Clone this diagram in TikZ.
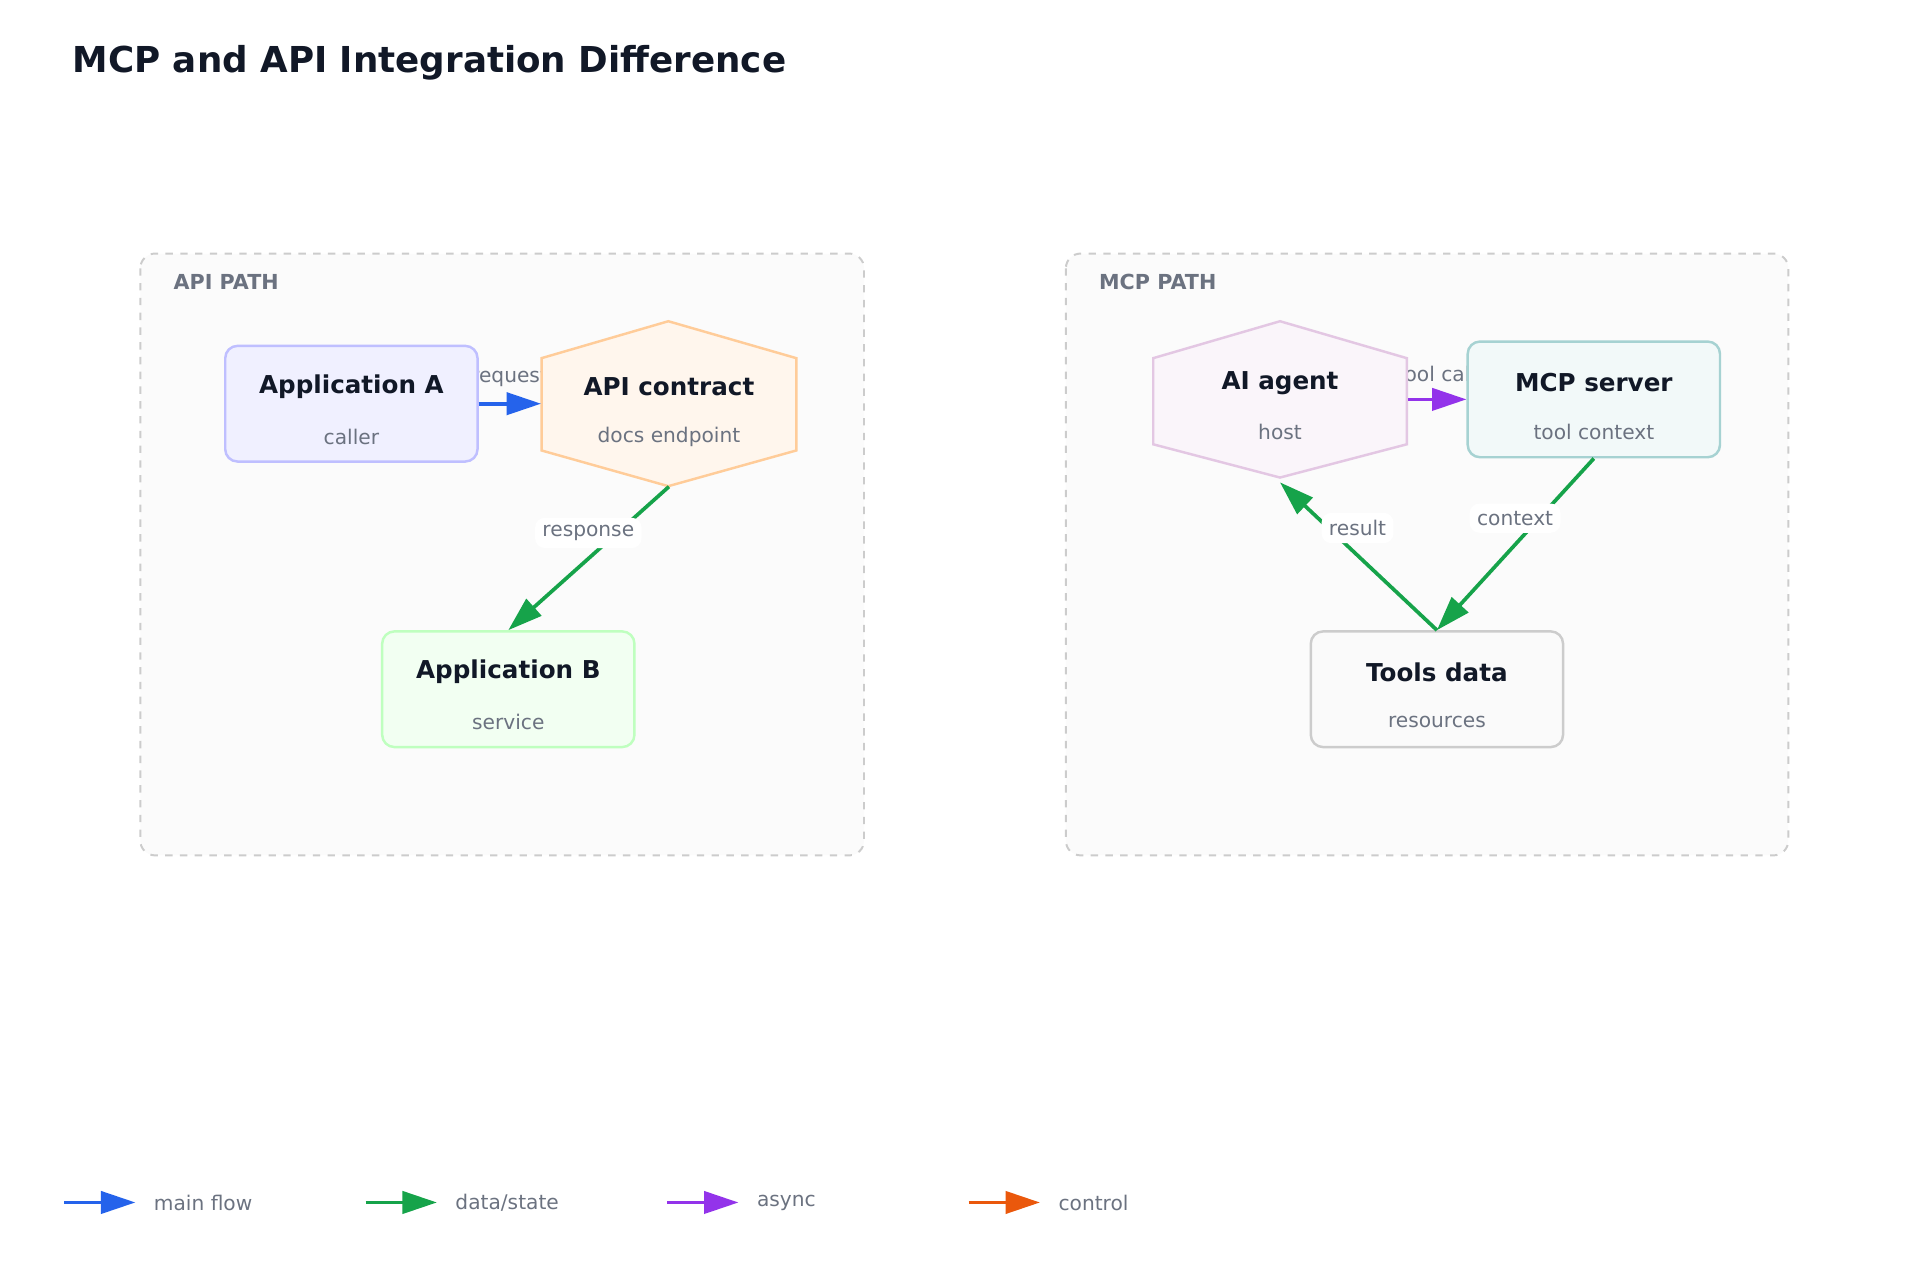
\documentclass[tikz,border=0pt]{standalone}
\usepackage{fontspec}
\setmainfont{DejaVu Sans}
\usetikzlibrary{arrows.meta}
\definecolor{ink}{HTML}{111827}
\definecolor{sub}{HTML}{6B7280}
\definecolor{cblue}{HTML}{2563EB}
\definecolor{cgreen}{HTML}{16A34A}
\definecolor{cpurple}{HTML}{9333EA}
\definecolor{corange}{HTML}{EA580C}
\begin{document}
\begin{tikzpicture}[x=0.5pt,y=-0.5pt,
  box/.style={draw, line width=1pt, rounded corners=5pt, minimum width=102.5pt, minimum height=47pt, inner sep=0pt},
  hexbox/.style={minimum width=103.5pt, minimum height=67pt, inner sep=0pt},
  ttl/.style={font=\fontsize{10}{12}\selectfont\bfseries, text=ink},
  stl/.style={font=\fontsize{8.2}{10}\selectfont, text=sub},
  grp/.style={draw=black!20, dashed, line width=0.8pt, fill=black!1.5, rounded corners=6pt},
  glab/.style={font=\fontsize{8.4}{10}\selectfont\bfseries, text=sub, anchor=west},
  arr/.style={line width=1.5pt, -{Triangle[length=14pt,width=9pt]}},
  elab/.style={font=\fontsize{8.2}{10}\selectfont, text=sub},
  elabw/.style={elab, fill=white, inner sep=3pt, rounded corners=4pt},
  leg/.style={font=\fontsize{8.2}{10}\selectfont, text=sub, anchor=west}]
\useasboundingbox (0,0) rectangle (1560,1040);
\node[anchor=west, font=\fontsize{14.5}{17}\selectfont\bfseries, text=ink] (title) at (52,51) {MCP and API Integration Difference};
% groups
\draw[grp] (114,206) rectangle (702,695);
\node[glab] (g1) at (134,229) {API PATH};
\draw[grp] (866,206) rectangle (1453,695);
\node[glab] (g2) at (886,229) {MCP PATH};
% clipped edge labels (drawn beneath nodes)
\node[elab] (lreq) at (414,307) {request};
\node[elab] (ltool) at (1167,304) {tool call};
% API path nodes
\node[box, draw=blue!25, fill=blue!6] (appA) at (285.5,328) {};
\node[ttl] at (285.5,314) {Application A};
\node[stl] at (285.5,355) {caller};
\node[hexbox] (api) at (543.5,328) {};
\draw[line width=1pt, draw=orange!40, fill=orange!7] (543,261) -- (647,291) -- (647,366) -- (543,395) -- (440,366) -- (440,291) -- cycle;
\node[ttl] at (543.5,314) {API contract};
\node[stl] at (543.5,355) {docs endpoint};
\node[box, draw=green!25, fill=green!5] (appB) at (413,560) {};
\node[ttl] at (413,546) {Application B};
\node[stl] at (413,587) {service};
% MCP path nodes
\node[hexbox] (agent) at (1040,324.5) {};
\draw[line width=1pt, draw=violet!22, fill=violet!4] (1040,261) -- (1143,291) -- (1143,361) -- (1040,388) -- (937,361) -- (937,291) -- cycle;
\node[ttl] at (1040,311) {AI agent};
\node[stl] at (1040,351) {host};
\node[box, draw=teal!35, fill=teal!5] (mcp) at (1295,324.5) {};
\node[ttl] at (1295,311) {MCP server};
\node[stl] at (1295,351) {tool context};
\node[box, draw=black!20, fill=black!2] (tools) at (1167.5,560) {};
\node[ttl] at (1167.5,546) {Tools data};
\node[stl] at (1167.5,587) {resources};
% connectors
\draw[arr, cblue] (appA.east) -- (api.west);
\draw[arr, cpurple] (agent.east) -- (mcp.west);
\draw[arr, cgreen] (api.south) -- (appB.north);
\draw[arr, cgreen] (mcp.south) -- (tools.north);
\draw[arr, cgreen] (tools.north) -- (agent.south);
\node[elabw] at (478,433) {response};
\node[elabw] at (1231,421) {context};
\node[elabw] at (1103,429) {result};
% legend
\foreach \x/\c/\t/\n in {52/cblue/main flow/l1, 297/cgreen/data\slash state/l2, 542/cpurple/async/l3, 787/corange/control/l4}{
  \coordinate (\n a) at (\x,977);
  \coordinate (\n b) at (\x+58,977);
  \draw[arr, \c] (\n a) -- (\n b);
  \node[leg] (\n t) at (\x+66,977) {\t};
}
\end{tikzpicture}
\end{document}
